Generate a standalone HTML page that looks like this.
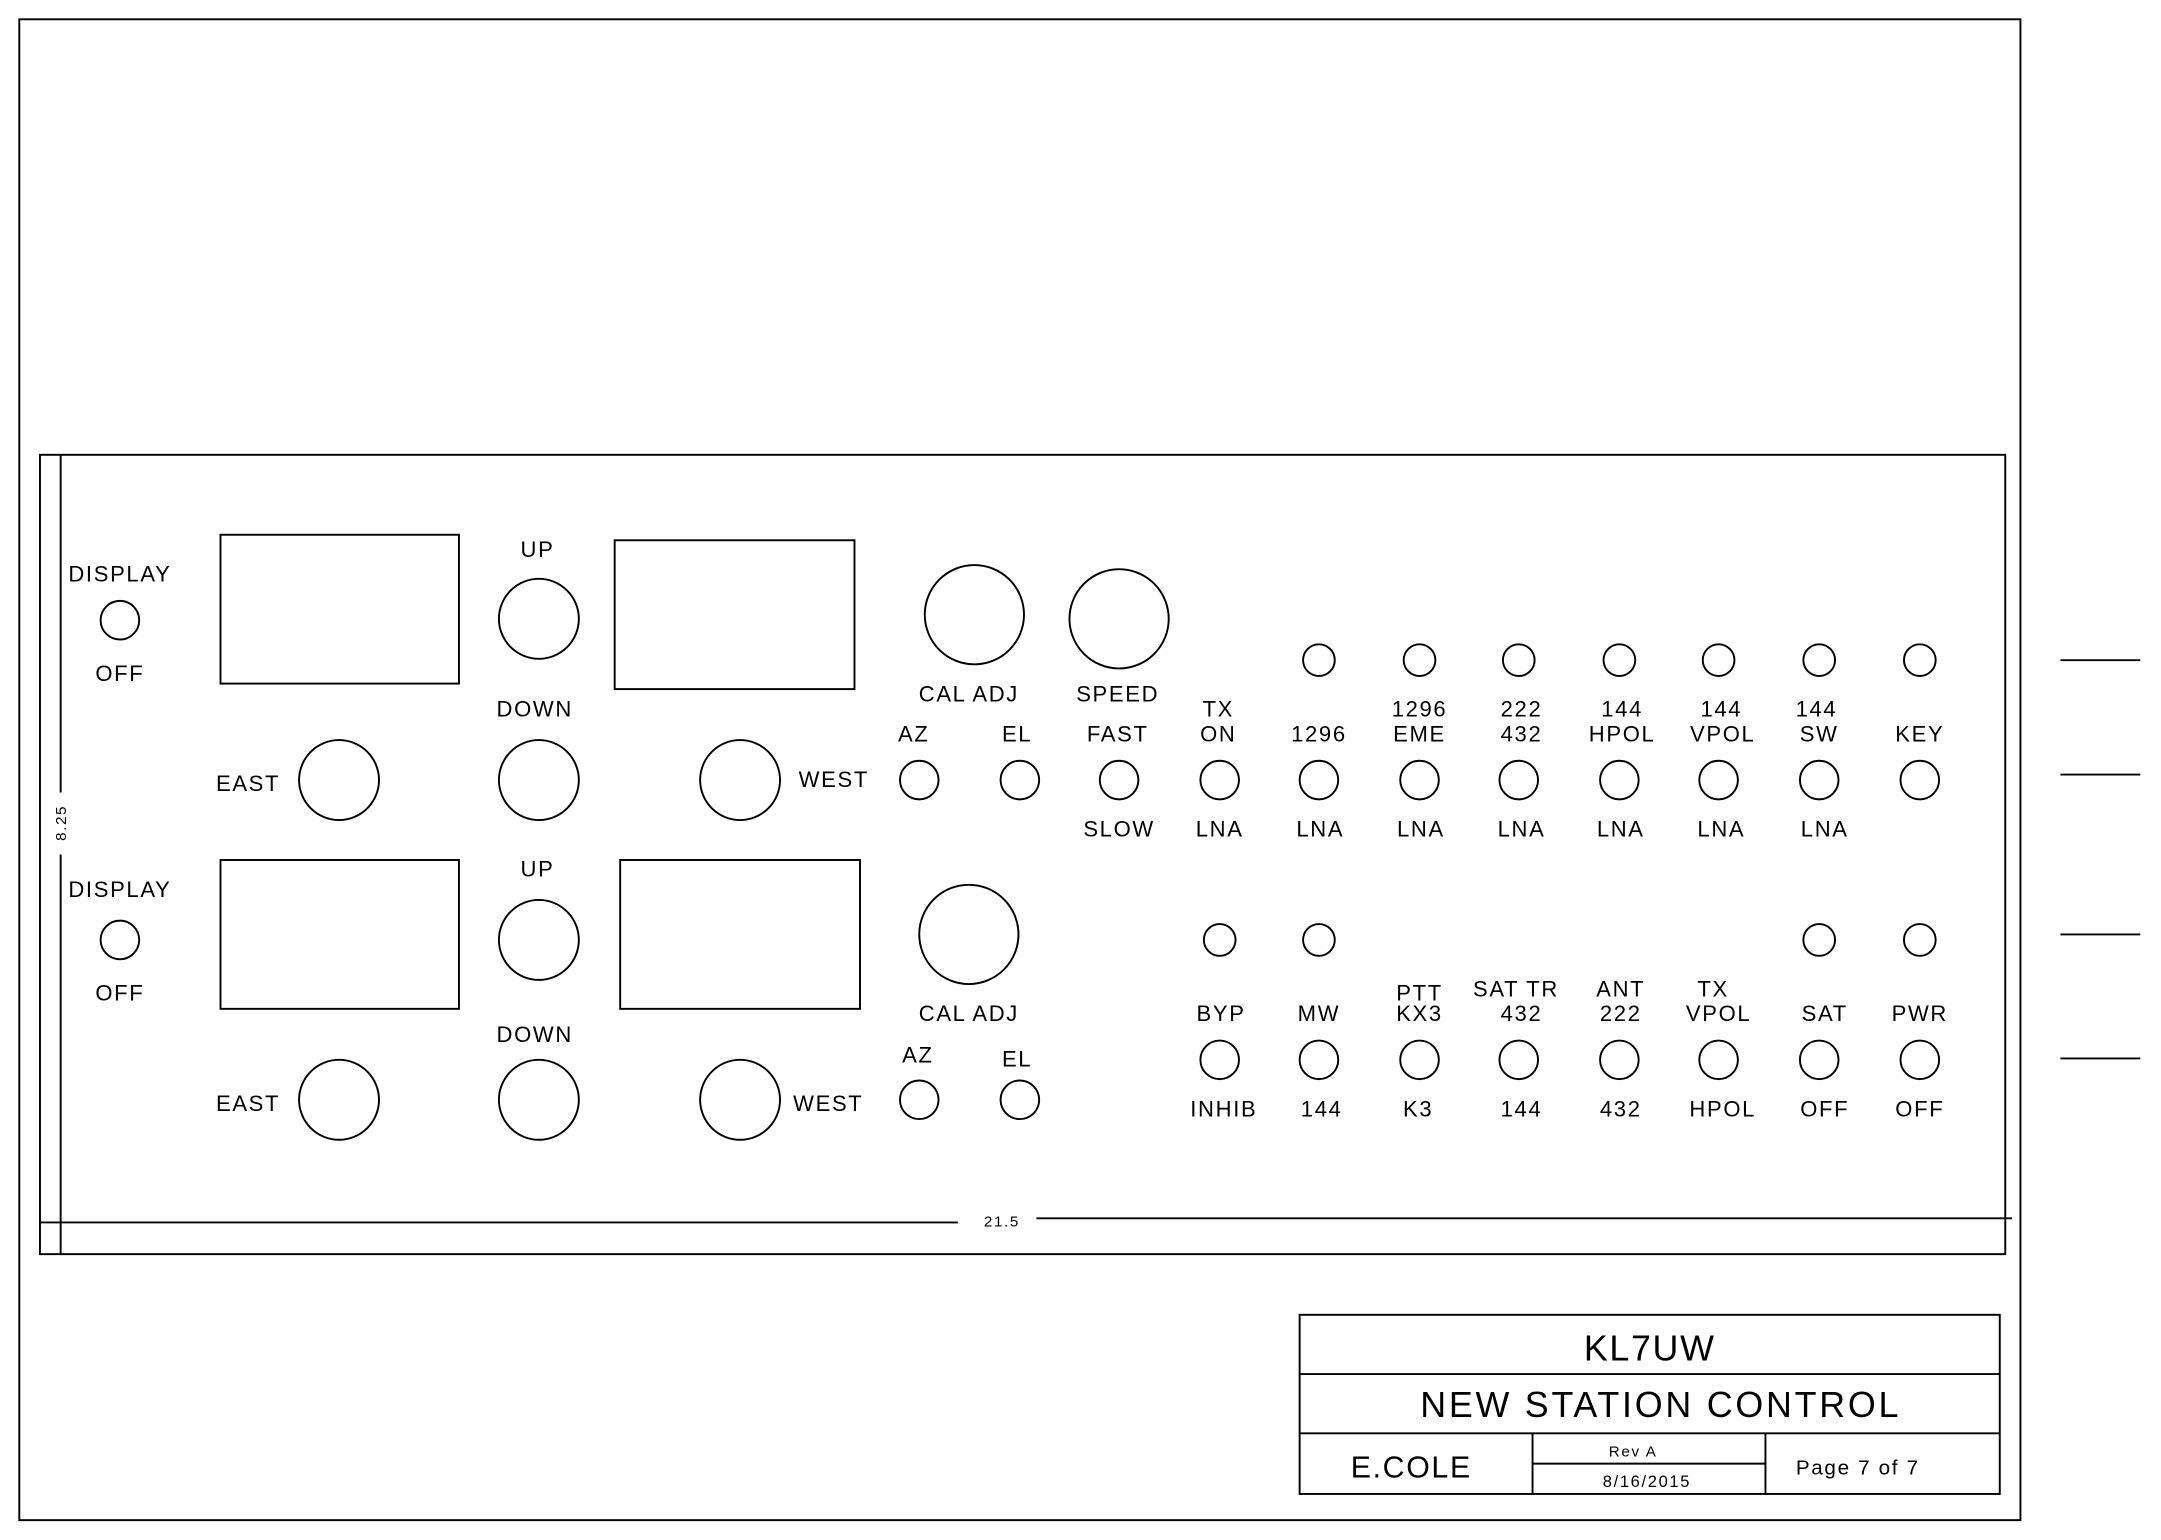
<!DOCTYPE html>
<html><head><meta charset="utf-8"><style>
html,body{margin:0;padding:0;background:#fff;}
svg{display:block;}
text{font-family:"Liberation Sans",sans-serif;fill:#000;text-anchor:middle;letter-spacing:1.2px;}
</style></head><body>
<svg width="2161" height="1540" viewBox="0 0 1568 1117.4" xmlns="http://www.w3.org/2000/svg">
<g fill="none" stroke="#000" stroke-width="1.4">
<rect x="14" y="14" width="1452" height="1089"/>
<rect x="29" y="330" width="1426" height="580"/>
<line x1="44" y1="330" x2="44" y2="575"/>
<line x1="44" y1="620" x2="44" y2="910"/>
<line x1="29" y1="887" x2="695" y2="887"/>
<line x1="752" y1="884" x2="1460" y2="884"/>
<line x1="1495" y1="479" x2="1553" y2="479"/>
<line x1="1495" y1="562" x2="1553" y2="562"/>
<line x1="1495" y1="678" x2="1553" y2="678"/>
<line x1="1495" y1="768" x2="1553" y2="768"/>
<rect x="943" y="954" width="508" height="130"/>
<line x1="943" y1="997" x2="1451" y2="997"/>
<line x1="943" y1="1040" x2="1451" y2="1040"/>
<line x1="1112" y1="1040" x2="1112" y2="1084"/>
<line x1="1281" y1="1040" x2="1281" y2="1084"/>
<line x1="1112" y1="1062" x2="1281" y2="1062"/>
<rect x="160" y="388" width="173" height="108"/>
<rect x="446" y="392" width="174" height="108"/>
<circle cx="87" cy="450" r="14"/>
<circle cx="391" cy="449" r="29"/>
<circle cx="707" cy="446" r="36"/>
<circle cx="812" cy="449" r="36"/>
<circle cx="246" cy="566" r="29"/>
<circle cx="391" cy="566" r="29"/>
<circle cx="537" cy="566" r="29"/>
<circle cx="667" cy="566" r="14"/>
<circle cx="740" cy="566" r="14"/>
<circle cx="812" cy="566" r="14"/>
<circle cx="885" cy="566" r="14"/>
<circle cx="957" cy="566" r="14"/>
<circle cx="1030" cy="566" r="14"/>
<circle cx="1102" cy="566" r="14"/>
<circle cx="1175" cy="566" r="14"/>
<circle cx="1247" cy="566" r="14"/>
<circle cx="1320" cy="566" r="14"/>
<circle cx="1393" cy="566" r="14"/>
<circle cx="957" cy="479" r="11.5"/>
<circle cx="1030" cy="479" r="11.5"/>
<circle cx="1102" cy="479" r="11.5"/>
<circle cx="1175" cy="479" r="11.5"/>
<circle cx="1247" cy="479" r="11.5"/>
<circle cx="1320" cy="479" r="11.5"/>
<circle cx="1393" cy="479" r="11.5"/>
<rect x="160" y="624" width="173" height="108"/>
<rect x="450" y="624" width="174" height="108"/>
<circle cx="87" cy="682" r="14"/>
<circle cx="391" cy="682" r="29"/>
<circle cx="703" cy="678" r="36"/>
<circle cx="246" cy="798" r="29"/>
<circle cx="391" cy="798" r="29"/>
<circle cx="537" cy="798" r="29"/>
<circle cx="667" cy="798" r="14"/>
<circle cx="740" cy="798" r="14"/>
<circle cx="885" cy="682" r="11.5"/>
<circle cx="957" cy="682" r="11.5"/>
<circle cx="1320" cy="682" r="11.5"/>
<circle cx="1393" cy="682" r="11.5"/>
<circle cx="885" cy="769" r="14"/>
<circle cx="957" cy="769" r="14"/>
<circle cx="1030" cy="769" r="14"/>
<circle cx="1102" cy="769" r="14"/>
<circle cx="1175" cy="769" r="14"/>
<circle cx="1247" cy="769" r="14"/>
<circle cx="1320" cy="769" r="14"/>
<circle cx="1393" cy="769" r="14"/>
</g>
<g font-size="16">
<text x="87" y="422">DISPLAY</text><text x="87" y="494">OFF</text>
<text x="390" y="404">UP</text><text x="388" y="520">DOWN</text>
<text x="703" y="509">CAL ADJ</text><text x="811" y="509">SPEED</text>
<text x="663" y="538">AZ</text><text x="738" y="538">EL</text><text x="811" y="538">FAST</text>
<text x="180" y="574">EAST</text><text x="605" y="571">WEST</text>
<text x="812" y="607">SLOW</text>
<text x="885" y="607">LNA</text><text x="958" y="607">LNA</text><text x="1031" y="607">LNA</text><text x="1104" y="607">LNA</text><text x="1176" y="607">LNA</text><text x="1249" y="607">LNA</text><text x="1324" y="607">LNA</text>
<text x="884" y="520">TX</text><text x="1030" y="520">1296</text><text x="1104" y="520">222</text><text x="1177" y="520">144</text><text x="1249" y="520">144</text><text x="1318" y="520">144</text>
<text x="884" y="538">ON</text><text x="957" y="538">1296</text><text x="1030" y="538">EME</text><text x="1104" y="538">432</text><text x="1177" y="538">HPOL</text><text x="1250" y="538">VPOL</text><text x="1320" y="538">SW</text><text x="1393" y="538">KEY</text>
<text x="87" y="651">DISPLAY</text><text x="87" y="726">OFF</text>
<text x="390" y="636">UP</text><text x="388" y="756">DOWN</text>
<text x="703" y="741">CAL ADJ</text>
<text x="666" y="771">AZ</text><text x="738" y="774">EL</text>
<text x="180" y="806">EAST</text><text x="601" y="806">WEST</text>
<text x="1030" y="726">PTT</text><text x="1100" y="723">SAT TR</text><text x="1176" y="723">ANT</text><text x="1243" y="723">TX</text>
<text x="886" y="741">BYP</text><text x="957" y="741">MW</text><text x="1030" y="741">KX3</text><text x="1104" y="741">432</text><text x="1176" y="741">222</text><text x="1247" y="741">VPOL</text><text x="1324" y="741">SAT</text><text x="1393" y="741">PWR</text>
<text x="888" y="810">INHIB</text><text x="959" y="810">144</text><text x="1029" y="810">K3</text><text x="1104" y="810">144</text><text x="1176" y="810">432</text><text x="1250" y="810">HPOL</text><text x="1324" y="810">OFF</text><text x="1393" y="810">OFF</text>
</g>
<text x="727" y="890" font-size="11">21.5</text>
<text x="0" y="0" font-size="11" transform="translate(48,597) rotate(-90)">8.25</text>
<text x="1197" y="987" font-size="26">KL7UW</text>
<text x="1205" y="1028" font-size="26" style="letter-spacing:2px">NEW STATION CONTROL</text>
<text x="1024" y="1072" font-size="22">E.COLE</text>
<text x="1185" y="1057" font-size="11">Rev A</text>
<text x="1195" y="1079" font-size="12">8/16/2015</text>
<text x="1348" y="1070" font-size="15">Page 7 of 7</text>
</svg>
</body></html>
